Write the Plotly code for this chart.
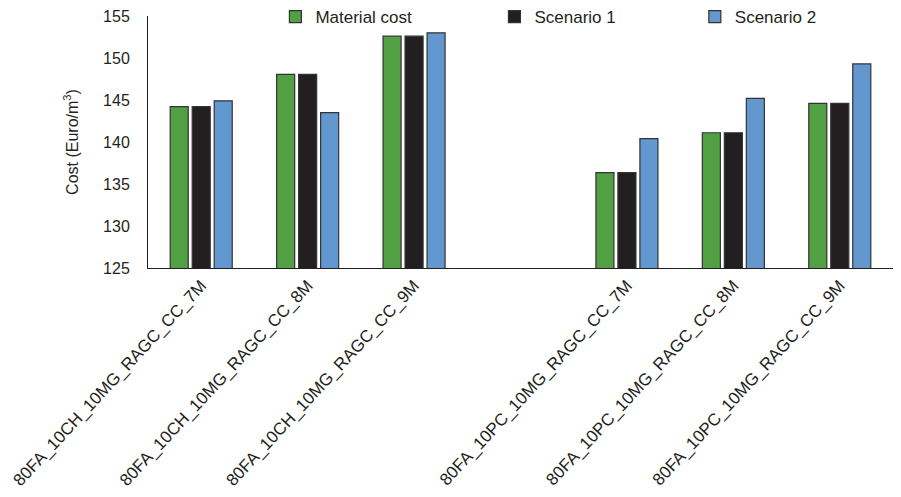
import plotly.graph_objects as go

categories = [
    "80FA_10CH_10MG_RAGC_CC_7M",
    "80FA_10CH_10MG_RAGC_CC_8M",
    "80FA_10CH_10MG_RAGC_CC_9M",
    "80FA_10PC_10MG_RAGC_CC_7M",
    "80FA_10PC_10MG_RAGC_CC_8M",
    "80FA_10PC_10MG_RAGC_CC_9M",
]
slot_positions = [0, 1, 2, 4, 5, 6]
material_cost = [144.2, 148.05, 152.6, 136.35, 141.1, 144.6]
scenario_1 = [144.2, 148.05, 152.6, 136.35, 141.1, 144.6]
scenario_2 = [144.9, 143.5, 153.0, 140.4, 145.2, 149.3]

series = [
    ("Material cost", material_cost, "#52A044", "legend", 0.171),
    ("Scenario 1", scenario_1, "#231F20", "legend2", 0.465),
    ("Scenario 2", scenario_2, "#6397D0", "legend3", 0.734),
]

FONT = "Arial, Liberation Sans, sans-serif"

fig = go.Figure()
for name, vals, color, leg, _ in series:
    fig.add_trace(go.Bar(
        x=slot_positions, y=vals, name=name, legend=leg,
        marker=dict(color=color, line=dict(color="#333333", width=1.2)),
    ))

legend_common = dict(orientation="h", yanchor="top", y=1.0 + 17 / 252, xanchor="left",
                     font=dict(family=FONT, size=17, color="#231F20"),
                     bgcolor="rgba(0,0,0,0)", itemwidth=30, borderwidth=0)
layout_legends = {}
for name, vals, color, leg, lx in series:
    layout_legends[leg] = dict(legend_common, x=lx)

fig.update_layout(
    width=901, height=497,
    margin=dict(l=140, r=16, t=8, b=237, autoexpand=False),
    paper_bgcolor="white", plot_bgcolor="white",
    barmode="group", bargap=0.38, bargroupgap=0.18,
    font=dict(family=FONT, size=16, color="#231F20"),
    showlegend=True,
    **layout_legends,
)
fig.update_xaxes(
    range=[-0.5, 6.5], tickmode="array", tickvals=slot_positions, ticktext=categories,
    tickangle=-47, showline=True, linecolor="#231F20", linewidth=1,
    showgrid=False, zeroline=False, ticks="", automargin=False,
    ticklabeloverflow="allow",
    tickfont=dict(family=FONT, size=17, color="#231F20"),
)
fig.update_yaxes(
    range=[125, 155], dtick=5, tick0=125, showline=True, linecolor="#231F20", linewidth=1,
    showgrid=False, zeroline=False, ticks="", ticklabelstandoff=14, automargin=False,
    ticklabeloverflow="allow",
    tickfont=dict(family=FONT, size=16, color="#231F20"),
    title=dict(text="Cost (Euro/m<sup>3</sup>)", standoff=20,
               font=dict(family=FONT, size=16, color="#231F20")),
)
fig.write_html("out.html")
